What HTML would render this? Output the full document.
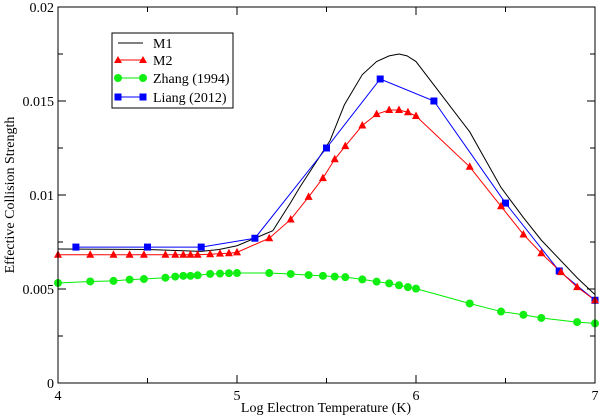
<!DOCTYPE html>
<html><head><meta charset="utf-8"><style>
body{margin:0;background:#fff;}
svg{display:block;font-family:"Liberation Serif",serif;}
</style></head><body>
<svg id="chart" width="600" height="420" viewBox="0 0 600 420" xmlns="http://www.w3.org/2000/svg">
<rect x="0" y="0" width="600" height="420" fill="#fff"/>
<g id="series"></g>
<rect x="58" y="7" width="537" height="376" fill="none" stroke="#000" stroke-width="1"/>
<g id="axes"></g>
<text x="326" y="412" font-size="14" text-anchor="middle">Log Electron Temperature (K)</text>
<text transform="translate(14,195) rotate(-90)" font-size="14" text-anchor="middle">Effective Collision Strength</text>
<g>
<rect x="112" y="33" width="121" height="75" fill="#fff" stroke="#000" stroke-width="1"/>
<g><line x1="118" y1="43" x2="143" y2="43" stroke="#000"/><text x="153" y="48" font-size="14">M1</text></g>
<g><line x1="118" y1="60" x2="143" y2="60" stroke="#f00"/><polygon points="118,56 122,63 114,63" fill="#f00"/><polygon points="143,56 147,63 139,63" fill="#f00"/><text x="153" y="65" font-size="14">M2</text></g>
<g><line x1="118" y1="78" x2="143" y2="78" stroke="#0e0"/><circle cx="118" cy="78" r="4" fill="#1e1"/><circle cx="143" cy="78" r="4" fill="#1e1"/><text x="153" y="83" font-size="14">Zhang (1994)</text></g>
<g><line x1="118" y1="97" x2="143" y2="97" stroke="#00f"/><rect x="114.5" y="93.5" width="7" height="7" fill="#00f"/><rect x="139.5" y="93.5" width="7" height="7" fill="#00f"/><text x="153" y="102" font-size="14">Liang (2012)</text></g>
</g>
</svg>
<script>
const m1X=[4.0,4.5,4.8,4.9,5.0,5.1,5.2,5.3,5.35,5.52,5.6,5.7,5.78,5.85,5.905,5.95,6.0,6.3,6.475,6.6,6.7,6.9,7.0];
const m1Y=[0.00713,0.0071,0.0070,0.0071,0.0073,0.0077,0.0081,0.0096,0.0104,0.0129,0.0148,0.0164,0.0171,0.0174,0.0175,0.0174,0.0171,0.01336,0.0104,0.0088,0.0076,0.0056,0.0047];
const m2X=[4.0,4.18,4.31,4.40,4.48,4.60,4.655,4.70,4.74,4.78,4.85,4.905,4.955,5.0,5.18,5.30,5.40,5.48,5.546,5.605,5.70,5.78,5.85,5.905,5.955,6.0,6.30,6.475,6.60,6.70,6.81,6.90,7.0];
const m2Y=[0.00682,0.00682,0.00682,0.00682,0.00682,0.00682,0.00682,0.00682,0.00682,0.00682,0.00685,0.00688,0.0069,0.00695,0.0077,0.0087,0.0099,0.0109,0.0119,0.0126,0.0137,0.0143,0.01452,0.01452,0.0144,0.0142,0.0115,0.0094,0.0079,0.0069,0.0059,0.0051,0.0044];
const zhX=[4.0,4.18,4.31,4.40,4.48,4.60,4.655,4.70,4.74,4.78,4.85,4.905,4.955,5.0,5.18,5.30,5.40,5.48,5.546,5.605,5.70,5.78,5.85,5.905,5.955,6.0,6.30,6.475,6.60,6.70,6.90,7.0];
const zhY=[0.00532,0.0054,0.00543,0.0055,0.00553,0.0056,0.00566,0.0057,0.0057,0.00573,0.0058,0.00582,0.00584,0.00585,0.00585,0.0058,0.00574,0.0057,0.00566,0.00563,0.00551,0.00539,0.0053,0.0052,0.0051,0.00502,0.00423,0.0038,0.00363,0.00346,0.00324,0.00317];
const liX=[4.1,4.5,4.8,5.1,5.5,5.8,6.1,6.5,6.8,7.0];
const liY=[0.00723,0.00723,0.00723,0.0077,0.0125,0.01617,0.015,0.00957,0.00596,0.0044];
const xTicks=[4,5,6,7];
const yTicks=[0,0.005,0.01,0.015,0.02];
const yTickLabels=["0","0.005","0.01","0.015","0.02"];

const NS="http://www.w3.org/2000/svg";
const L=58,R=595,T=7,B=383;
const sx=v=>L+(v-4)/3*(R-L);
const sy=v=>B-v/0.02*(B-T);
const axes=document.getElementById('axes');
const ser=document.getElementById('series');
function mk(tag,attrs,parent){const e=document.createElementNS(NS,tag);for(const k in attrs)e.setAttribute(k,attrs[k]);parent.appendChild(e);return e;}
// x ticks
for(let v=4;v<=7.001;v+=0.5){
  const x=sx(v),len=(Math.abs(v-Math.round(v))<1e-6)?8:5;
  const t1=mk('line',{x1:x,y1:B,x2:x,y2:B-len,stroke:'#000'},axes);
  
  
  const t2=mk('line',{x1:x,y1:T,x2:x,y2:T+len,stroke:'#000'},axes);
  
  
}
xTicks.forEach(v=>{
  const t=mk('text',{x:sx(v),y:B+17,'font-size':14,'text-anchor':'middle'},axes);
  t.textContent=String(v);
  
  
});
for(let v=0;v<=0.02001;v+=0.0025){
  const y=sy(v),len=(Math.abs(v/0.005-Math.round(v/0.005))<1e-6)?8:5;
  const t1=mk('line',{x1:L,y1:y,x2:L+len,y2:y,stroke:'#000'},axes);
  
  
  const t2=mk('line',{x1:R,y1:y,x2:R-len,y2:y,stroke:'#000'},axes);
  
  
}
yTicks.forEach((v,i)=>{
  const t=mk('text',{x:L-4,y:sy(v)+5,'font-size':14,'text-anchor':'end'},axes);
  t.textContent=yTickLabels[i];
  
  
});
function line(xs,ys,color,name){
  const p=mk('polyline',{points:xs.map((x,i)=>sx(x)+','+sy(ys[i])).join(' '),fill:'none',stroke:color,'stroke-width':1},ser);
  
  
}
line(m1X,m1Y,'#000','m1-line');
line(zhX,zhY,'#0e0','zhang-line');
line(liX,liY,'#00f','liang-line');
line(m2X,m2Y,'#f00','m2-line');
zhX.forEach((x,i)=>{
  const c=mk('circle',{cx:sx(x),cy:sy(zhY[i]),r:4,fill:'#1e1'},ser);
  
  
});
liX.forEach((x,i)=>{
  const r=mk('rect',{x:sx(x)-3.5,y:sy(liY[i])-3.5,width:7,height:7,fill:'#00f'},ser);
  
  
});
m2X.forEach((x,i)=>{
  const cx=sx(x),cy=sy(m2Y[i]);
  const p=mk('polygon',{points:`${cx},${cy-4.5} ${cx+4},${cy+3} ${cx-4},${cy+3}`,fill:'#f00'},ser);
  
  
});
</script>
</body></html>
